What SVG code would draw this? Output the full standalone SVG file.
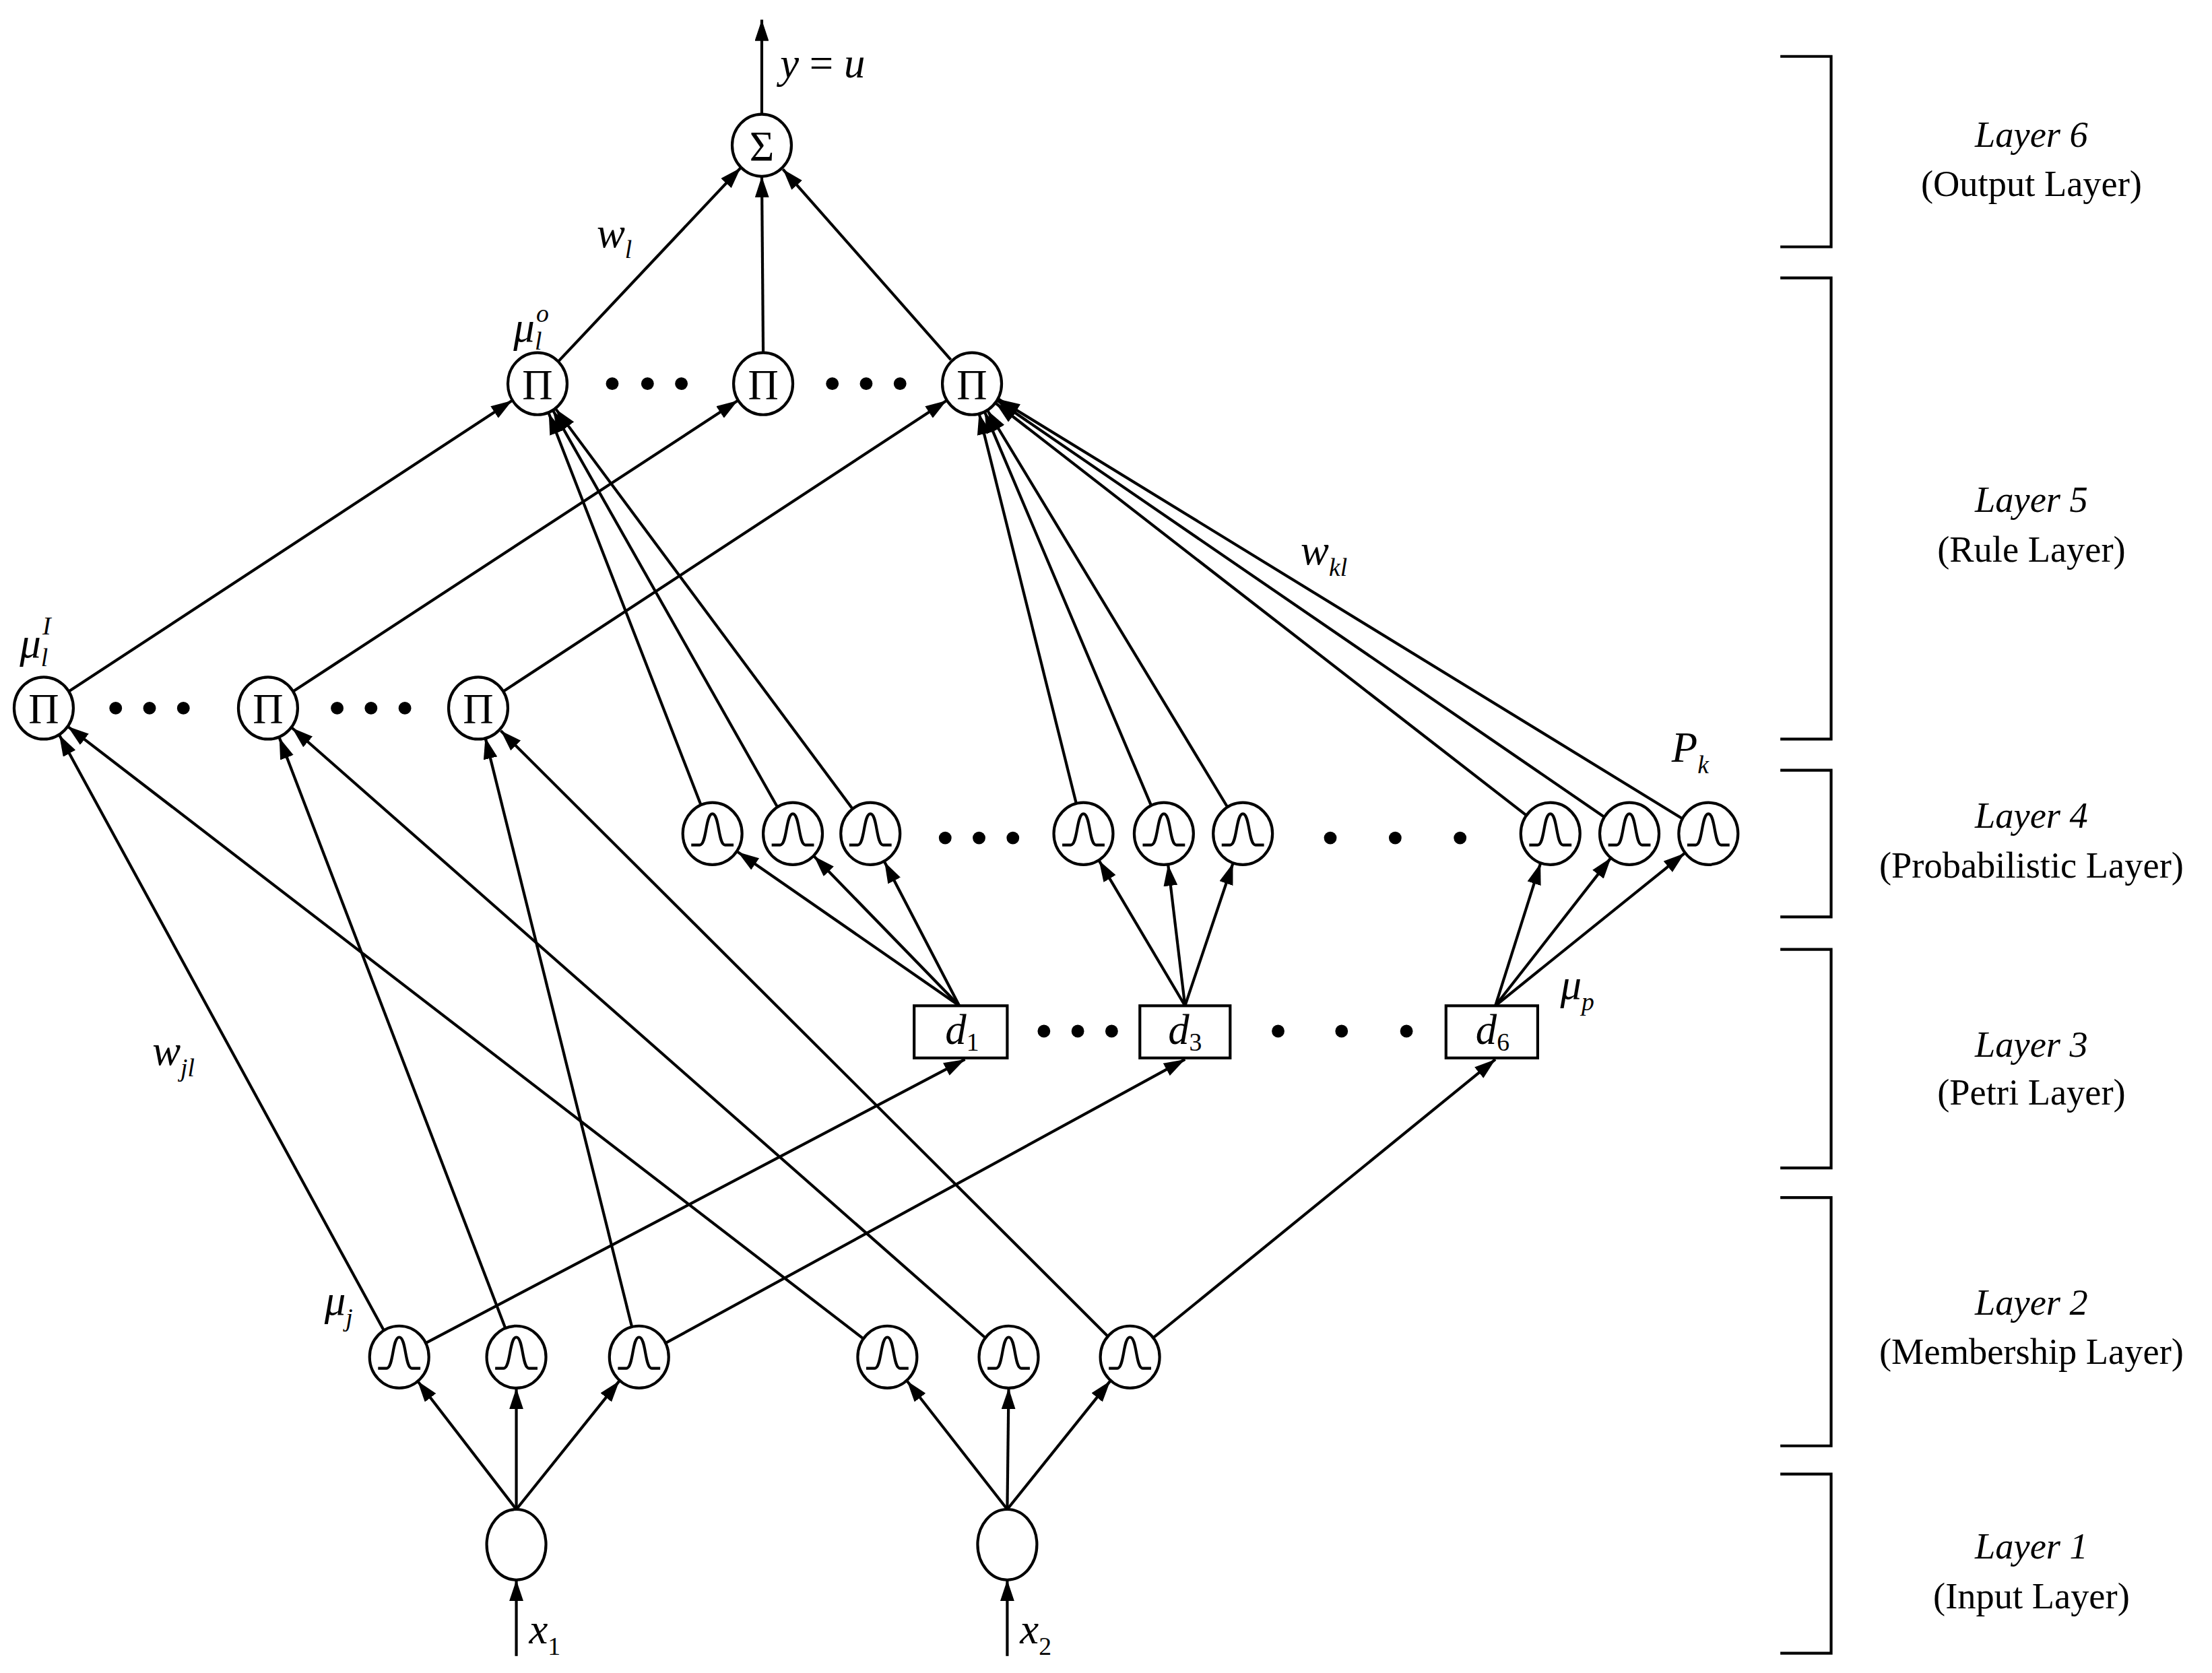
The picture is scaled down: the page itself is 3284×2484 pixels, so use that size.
<svg xmlns="http://www.w3.org/2000/svg" width="3284" height="2484" viewBox="0 0 3284 2484">
<style>
.n{fill:#fff;stroke:#000;stroke-width:2}
.e line{stroke:#000;stroke-width:2}
.a{marker-end:url(#ah)}
.t{font-family:"Liberation Serif",serif;font-size:30px;fill:#000}
.i{font-style:italic}
.s{font-size:18px}
.L{font-family:"Liberation Serif",serif;font-size:26px;text-anchor:middle}
.b{fill:none;stroke:#000;stroke-width:2}
.g{fill:none;stroke:#000;stroke-width:2}
</style>
<defs>
<marker id="ah" markerUnits="userSpaceOnUse" markerWidth="16" markerHeight="10" refX="15" refY="5" orient="auto"><path d="M0,0 L15,5 L0,10 z" fill="#000"/></marker>
<g id="gau"><ellipse class="n" cx="0" cy="0" rx="21" ry="22"/><path class="g" d="M-15,8 L-9,8 C-4,8 -5,-14 0,-14 C5,-14 4,8 9,8 L15,8"/></g>
<g id="pi"><ellipse class="n" cx="0" cy="0" rx="21" ry="22"/><text class="t" x="0" y="11" text-anchor="middle">Π</text></g>
</defs>
<rect width="3284" height="2484" fill="#fff"/>
<g transform="scale(2.0944)">
<g id="connectors" class="e">
<line class="a" x1="540" y1="81" x2="540" y2="14"/>
<line class="a" x1="396" y1="256" x2="525" y2="119"/>
<line class="a" x1="541" y1="250" x2="540" y2="125"/>
<line class="a" x1="674" y1="255" x2="555" y2="120"/>
<line class="a" x1="49" y1="490" x2="363" y2="284"/>
<line class="a" x1="208" y1="490" x2="523" y2="284"/>
<line class="a" x1="357" y1="490" x2="671" y2="284"/>
<line class="a" x1="497" y1="571" x2="389" y2="293"/>
<line class="a" x1="551" y1="572" x2="392" y2="291"/>
<line class="a" x1="604" y1="573" x2="394" y2="290"/>
<line class="a" x1="763" y1="570" x2="694" y2="293"/>
<line class="a" x1="816" y1="571" x2="698" y2="292"/>
<line class="a" x1="870" y1="572" x2="700" y2="291"/>
<line class="a" x1="1082" y1="578" x2="706" y2="286"/>
<line class="a" x1="1137" y1="579" x2="707" y2="284"/>
<line class="a" x1="1192" y1="580" x2="708" y2="283"/>
<line class="a" x1="680" y1="713" x2="523" y2="604"/>
<line class="a" x1="680" y1="713" x2="577" y2="607"/>
<line class="a" x1="680" y1="713" x2="627" y2="611"/>
<line class="a" x1="840" y1="713" x2="779" y2="610"/>
<line class="a" x1="840" y1="713" x2="828" y2="613"/>
<line class="a" x1="840" y1="713" x2="874" y2="612"/>
<line class="a" x1="1060" y1="713" x2="1092" y2="612"/>
<line class="a" x1="1060" y1="713" x2="1142" y2="608"/>
<line class="a" x1="1060" y1="713" x2="1194" y2="605"/>
<line class="a" x1="272" y1="943" x2="42" y2="521"/>
<line class="a" x1="358" y1="941" x2="198" y2="523"/>
<line class="a" x1="448" y1="941" x2="344" y2="523"/>
<line class="a" x1="612" y1="949" x2="48" y2="515"/>
<line class="a" x1="698" y1="948" x2="207" y2="516"/>
<line class="a" x1="785" y1="947" x2="355" y2="518"/>
<line class="a" x1="302" y1="952" x2="684" y2="751"/>
<line class="a" x1="472" y1="952" x2="840" y2="751"/>
<line class="a" x1="818" y1="948" x2="1060" y2="751"/>
<line class="a" x1="366" y1="1070" x2="296" y2="979"/>
<line class="a" x1="366" y1="1070" x2="366" y2="984"/>
<line class="a" x1="366" y1="1070" x2="439" y2="979"/>
<line class="a" x1="714" y1="1070" x2="643" y2="979"/>
<line class="a" x1="714" y1="1070" x2="715" y2="984"/>
<line class="a" x1="714" y1="1070" x2="787" y2="979"/>
<line class="a" x1="366" y1="1174" x2="366" y2="1120"/>
<line class="a" x1="714" y1="1174" x2="714" y2="1120"/>
</g>
<g id="sum"><ellipse class="n" cx="540" cy="103" rx="21" ry="22"/><text class="t" x="540" y="114" text-anchor="middle">Σ</text></g>
<g id="rule-out"><use href="#pi" x="381" y="272"/><use href="#pi" x="541" y="272"/><use href="#pi" x="689" y="272"/></g>
<g id="rule-in"><use href="#pi" x="31" y="502"/><use href="#pi" x="190" y="502"/><use href="#pi" x="339" y="502"/></g>
<g id="prob"><use href="#gau" x="505" y="591"/><use href="#gau" x="562" y="591"/><use href="#gau" x="617" y="591"/><use href="#gau" x="768" y="591"/><use href="#gau" x="825" y="591"/><use href="#gau" x="881" y="591"/><use href="#gau" x="1099" y="591"/><use href="#gau" x="1155" y="591"/><use href="#gau" x="1211" y="591"/></g>
<g id="petri">
<rect class="n" x="648" y="713" width="66" height="37"/><text class="t i" x="670" y="740" font-size="26">d<tspan class="s" font-style="normal" dy="5">1</tspan></text>
<rect class="n" x="808" y="713" width="64" height="37"/><text class="t i" x="828" y="740" font-size="26">d<tspan class="s" font-style="normal" dy="5">3</tspan></text>
<rect class="n" x="1025" y="713" width="65" height="37"/><text class="t i" x="1046" y="740" font-size="26">d<tspan class="s" font-style="normal" dy="5">6</tspan></text>
</g>
<g id="member"><use href="#gau" x="283" y="962"/><use href="#gau" x="366" y="962"/><use href="#gau" x="453" y="962"/><use href="#gau" x="629" y="962"/><use href="#gau" x="715" y="962"/><use href="#gau" x="801" y="962"/></g>
<g id="input"><ellipse class="n" cx="366" cy="1095" rx="21" ry="25"/><ellipse class="n" cx="714" cy="1095" rx="21" ry="25"/></g>
<g id="dots" fill="#000">
<circle cx="434" cy="272" r="4.5"/><circle cx="459" cy="272" r="4.5"/><circle cx="483" cy="272" r="4.5"/>
<circle cx="590" cy="272" r="4.5"/><circle cx="614" cy="272" r="4.5"/><circle cx="638" cy="272" r="4.5"/>
<circle cx="82" cy="502" r="4.5"/><circle cx="106" cy="502" r="4.5"/><circle cx="130" cy="502" r="4.5"/>
<circle cx="239" cy="502" r="4.5"/><circle cx="263" cy="502" r="4.5"/><circle cx="287" cy="502" r="4.5"/>
<circle cx="670" cy="594" r="4.5"/><circle cx="694" cy="594" r="4.5"/><circle cx="718" cy="594" r="4.5"/>
<circle cx="943" cy="594" r="4.5"/><circle cx="989" cy="594" r="4.5"/><circle cx="1035" cy="594" r="4.5"/>
<circle cx="740" cy="731" r="4.5"/><circle cx="764" cy="731" r="4.5"/><circle cx="788" cy="731" r="4.5"/>
<circle cx="906" cy="731" r="4.5"/><circle cx="951" cy="731" r="4.5"/><circle cx="997" cy="731" r="4.5"/>
</g>
<g id="labels" class="t i">
<text x="553" y="55">y<tspan font-style="normal"> = </tspan>u</text>
<text x="423" y="175">w<tspan class="s" dy="8">l</tspan></text>
<text x="364" y="242">μ<tspan class="s" dy="6">l</tspan><tspan class="s" dx="-4" dy="-20">o</tspan></text>
<text x="14" y="466">μ<tspan class="s" dy="6">l</tspan><tspan class="s" dx="-4" dy="-22">I</tspan></text>
<text x="922" y="400">w<tspan class="s" dy="8">kl</tspan></text>
<text x="1185" y="540">P<tspan class="s" dy="8">k</tspan></text>
<text x="1106" y="708">μ<tspan class="s" dy="8">p</tspan></text>
<text x="108" y="755">w<tspan class="s" dy="8">jl</tspan></text>
<text x="230" y="932">μ<tspan class="s" dy="8">j</tspan></text>
<text x="375" y="1165">x<tspan class="s" font-style="normal" dy="8">1</tspan></text>
<text x="723" y="1165">x<tspan class="s" font-style="normal" dy="8">2</tspan></text>
</g>
<g id="brackets">
<path class="b" d="M1262,40 H1298 V175 H1262"/>
<path class="b" d="M1262,197 H1298 V524 H1262"/>
<path class="b" d="M1262,546 H1298 V650 H1262"/>
<path class="b" d="M1262,673 H1298 V828 H1262"/>
<path class="b" d="M1262,849 H1298 V1025 H1262"/>
<path class="b" d="M1262,1045 H1298 V1172 H1262"/>
<text class="L" x="1440" y="104" font-style="italic">Layer 6</text><text class="L" x="1440" y="139">(Output Layer)</text>
<text class="L" x="1440" y="363" font-style="italic">Layer 5</text><text class="L" x="1440" y="398">(Rule Layer)</text>
<text class="L" x="1440" y="587" font-style="italic">Layer 4</text><text class="L" x="1440" y="622">(Probabilistic Layer)</text>
<text class="L" x="1440" y="749" font-style="italic">Layer 3</text><text class="L" x="1440" y="783">(Petri Layer)</text>
<text class="L" x="1440" y="932" font-style="italic">Layer 2</text><text class="L" x="1440" y="967">(Membership Layer)</text>
<text class="L" x="1440" y="1105" font-style="italic">Layer 1</text><text class="L" x="1440" y="1140">(Input Layer)</text>
</g>
</g>
</svg>
